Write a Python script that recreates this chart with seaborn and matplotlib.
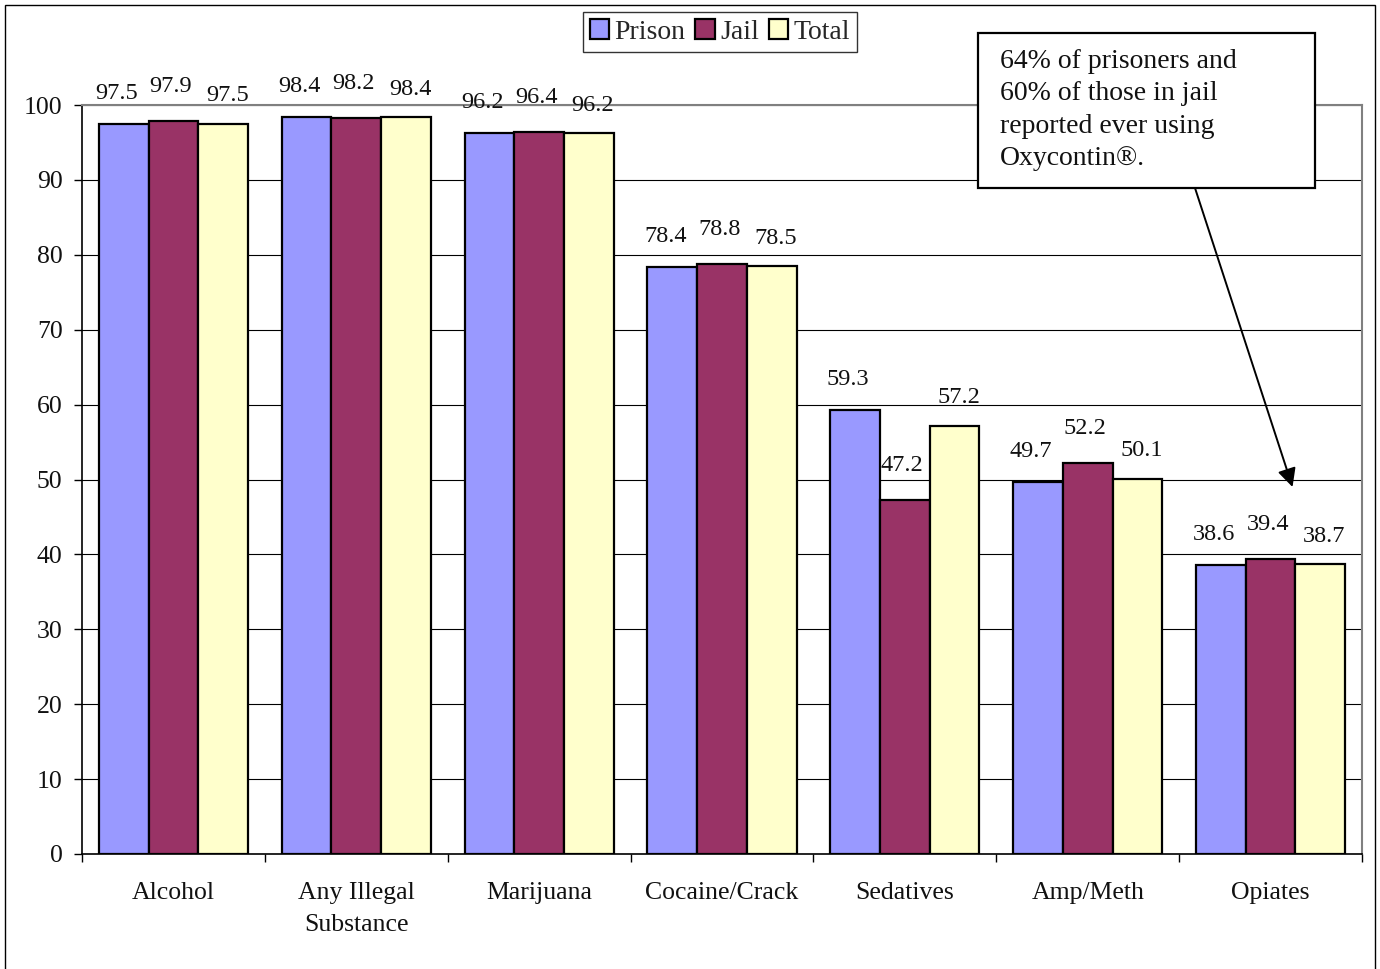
import pandas as pd
import numpy as np
import matplotlib.pyplot as plt
import seaborn as sns
from matplotlib.patches import Rectangle
from matplotlib.ticker import MultipleLocator

sns.set_theme(style="white")
plt.rcParams['font.family'] = ['Liberation Serif', 'DejaVu Serif']

# datos
categories = ["Alcohol", "Any Illegal\nSubstance", "Marijuana", "Cocaine/Crack",
              "Sedatives", "Amp/Meth", "Opiates"]
prison = [97.5, 98.4, 96.2, 78.4, 59.3, 49.7, 38.6]
jail = [97.9, 98.2, 96.4, 78.8, 47.2, 52.2, 39.4]
total = [97.5, 98.4, 96.2, 78.5, 57.2, 50.1, 38.7]
groups = ["Prison", "Jail", "Total"]
colors = ["#9999FF", "#993366", "#FFFFCC"]
note = "64% of prisoners and\n60% of those in jail\nreported ever using\nOxycontin®."

df = pd.DataFrame({"cat": categories * 3,
                   "group": np.repeat(groups, len(categories)),
                   "value": prison + jail + total})

W, H = 1380, 969
fig = plt.figure(figsize=(W / 100, H / 100), dpi=100)
ax = fig.add_axes([82 / W, 1 - 854 / H, (1362 - 82) / W, (854 - 105) / H])

sns.barplot(data=df, x="cat", y="value", hue="group", hue_order=groups,
            palette=colors, saturation=1, width=0.815, gap=0,
            edgecolor="black", linewidth=1.6, ax=ax, legend=True, zorder=3)

ax.set_ylim(0, 100)
ax.set_xlim(-0.5, len(categories) - 0.5)
ax.yaxis.set_major_locator(MultipleLocator(10))
ax.grid(axis="y", color="black", linewidth=0.8, zorder=0)
ax.set_axisbelow(True)
ax.set_xlabel("")
ax.set_ylabel("")

for s in ["top", "right"]:
    ax.spines[s].set_color("#808080")
    ax.spines[s].set_linewidth(1.5)
for s in ["left", "bottom"]:
    ax.spines[s].set_color("black")
    ax.spines[s].set_linewidth(1.2)

ax.tick_params(axis="y", left=True, length=6, width=1, color="black",
               pad=8, labelsize=18.5, labelcolor="#111111")
ax.tick_params(axis="x", which="major", length=0, pad=20, labelsize=18.5,
               labelcolor="#111111")
ax.set_xticks(np.arange(-0.5, len(categories)), minor=True)
ax.tick_params(axis="x", which="minor", bottom=True, length=6, width=1,
               color="black")
for lab in ax.get_xticklabels():
    lab.set_linespacing(1.58)

# etiquetas de valores
lift = [22, 25, 20]
shift = [-5, -2, 3]
for k, cont in enumerate(ax.containers):
    for bar in cont:
        h = bar.get_height()
        ax.annotate(f"{h:.1f}", (bar.get_x() + bar.get_width() / 2, h),
                    xytext=(shift[k], lift[k]), textcoords="offset points",
                    ha="center", va="center", fontsize=17.5, color="#111111",
                    annotation_clip=False)

# leyenda
handles, labels = ax.get_legend_handles_labels()
ax.get_legend().remove()
leg = fig.legend(handles, labels, loc="center", ncol=3,
                 bbox_to_anchor=(720 / W, 1 - 32 / H), fontsize=20,
                 frameon=True, fancybox=False, edgecolor="black",
                 handlelength=0.7, handleheight=0.7, handletextpad=0.2,
                 columnspacing=0.35, borderpad=0.25, borderaxespad=0)
leg.get_frame().set_linewidth(1.0)

# recuadro de nota con flecha
fig.patches.append(Rectangle((978 / W, 1 - 188 / H), (1315 - 978) / W, (188 - 33) / H,
                             transform=fig.transFigure, facecolor="white",
                             edgecolor="black", linewidth=1.6, zorder=5))
fig.text(1000 / W, 1 - 110 / H, note, ha="left", va="center", fontsize=20,
         linespacing=1.37, color="#111111", zorder=6)
ax.annotate("", xy=(6.12, 49), xycoords="data",
            xytext=(1195 / W, 1 - 188 / H), textcoords="figure fraction",
            arrowprops=dict(arrowstyle="-|>", color="black", lw=1.4,
                            mutation_scale=28, shrinkA=0, shrinkB=0),
            annotation_clip=False)

# borde exterior
fig.patches.append(Rectangle((5 / W, -0.01), (1375 - 5) / W, 1 - 5 / H + 0.01,
                             transform=fig.transFigure, facecolor="none",
                             edgecolor="black", linewidth=1.0, zorder=0))

fig.savefig("out.png", dpi=100)
